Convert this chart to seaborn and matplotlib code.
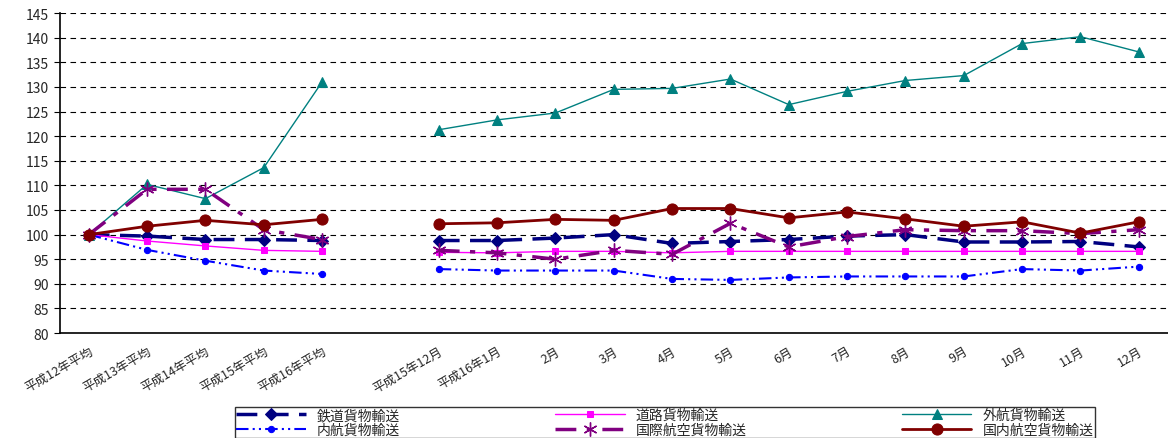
import numpy as np
import pandas as pd
import matplotlib
matplotlib.use("Agg")
import matplotlib.pyplot as plt
import seaborn as sns

sns.set_style("white")
plt.rcParams['font.family'] = ['Noto Sans CJK JP', 'DejaVu Sans']

# --- data ---
labels = ["平成12年平均", "平成13年平均", "平成14年平均", "平成15年平均", "平成16年平均", "",
          "平成15年12月", "平成16年1月", "2月", "3月", "4月", "5月", "6月", "7月", "8月",
          "9月", "10月", "11月", "12月"]
nan = np.nan
rail = [100, 99.7, 99, 99, 98.8, nan, 98.8, 98.8, 99.3, 100, 98.2, 98.6, 99, 99.7, 100, 98.5, 98.5, 98.6, 97.5]
road = [100, 98.7, 97.7, 96.8, 96.6, nan, 96.4, 96.3, 96.6, 96.6, 96.3, 96.6, 96.6, 96.6, 96.6, 96.6, 96.6, 96.6, 96.6]
ocean = [100, 110.2, 107.3, 113.6, 131, nan, 121.3, 123.3, 124.7, 129.5, 129.7, 131.6, 126.4, 129.1, 131.3, 132.3, 138.8, 140.2, 137.1]
coastal = [100, 96.9, 94.7, 92.7, 92, nan, 93, 92.7, 92.7, 92.7, 91, 90.8, 91.3, 91.5, 91.5, 91.5, 93, 92.7, 93.5]
intl_air = [100, 109.2, 109.2, 101, 99, nan, 96.8, 96.3, 95, 96.8, 96, 102.3, 97.5, 99.6, 101, 100.8, 100.8, 100.2, 101]
dom_air = [100, 101.7, 102.9, 102, 103.1, nan, 102.2, 102.4, 103.1, 102.9, 105.3, 105.3, 103.4, 104.6, 103.2, 101.7, 102.6, 100.3, 102.6]

series = [
    ("鉄道貨物輸送", rail, dict(color="#000080", lw=2.5, ls=(0, (6, 3)), marker="D", ms=6)),
    ("道路貨物輸送", road, dict(color="#FF00FF", lw=1, ls="-", marker="s", ms=4.5)),
    ("外航貨物輸送", ocean, dict(color="#008080", lw=1, ls="-", marker="^", ms=7)),
    ("内航貨物輸送", coastal, dict(color="#0000FF", lw=1.5, ls=(0, (6, 2, 1, 2, 1, 2)), marker="o", ms=4.5)),
    ("国際航空貨物輸送", intl_air, dict(color="#800080", lw=2.5, ls=(0, (6, 3, 1.5, 3)), marker=(6, 2, 0), ms=10, mew=1)),
    ("国内航空貨物輸送", dom_air, dict(color="#800000", lw=2, ls="-", marker="o", ms=8)),
]

x = np.arange(len(labels))
fig = plt.figure(figsize=(11.68, 4.39), dpi=100)
ax = fig.add_axes([0.051, 0.239, 0.949, 0.729])

handles = {}
for name, vals, st in series:
    v = np.array(vals, dtype=float)
    # two separate segments: annual averages and monthly values
    for seg in (slice(0, 5), slice(6, None)):
        sns.lineplot(x=x[seg], y=v[seg], ax=ax, label=name, markeredgecolor=st["color"], **st)
    handles[name] = ax.get_lines()[-1]

ax.set_xlim(-0.5, len(labels) - 0.5)
ax.set_ylim(80, 145)
ax.set_yticks(range(80, 146, 5))
ax.yaxis.grid(True, color="black", ls=(0, (5, 4)), lw=0.8)
ax.set_xticks(np.arange(-0.5, len(labels), 1))
ax.set_xticklabels([])
ax.set_xticks(x, minor=True)
ax.set_xticklabels(labels, minor=True, rotation=30, ha="right", fontsize=9, rotation_mode="anchor")
ax.tick_params(axis="x", which="minor", length=0, pad=8)
ax.tick_params(axis="x", which="major", length=4, direction="in", color="black")
ax.tick_params(axis="y", labelsize=10, length=4, direction="out", color="black", left=True)
for s in ["top", "right"]:
    ax.spines[s].set_visible(False)
for s in ["left", "bottom"]:
    ax.spines[s].set_color("black")
    ax.spines[s].set_linewidth(1.2)

order = ["鉄道貨物輸送", "内航貨物輸送", "道路貨物輸送", "国際航空貨物輸送", "外航貨物輸送", "国内航空貨物輸送"]
leg = ax.legend([handles[n] for n in order], order,
                loc="lower left", bbox_to_anchor=(235 / 1168, 0, 860 / 1168, 36 / 439),
                bbox_transform=fig.transFigure, ncol=3, mode="expand", fontsize=10,
                frameon=True, fancybox=False, edgecolor="black", borderaxespad=0,
                handlelength=5, labelspacing=0.05, borderpad=0.1)
leg.get_frame().set_linewidth(1)

fig.savefig("out.png", dpi=100)
